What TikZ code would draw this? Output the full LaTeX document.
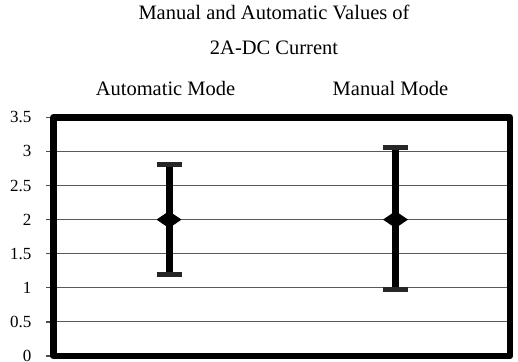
\documentclass[tikz,border=0pt]{standalone}
\usepackage{fontspec}
\setmainfont{Liberation Serif}
\begin{document}
\begin{tikzpicture}[x=1pt,y=-1pt,
  lbl/.style={font=\fontsize{20.5}{24}\selectfont, inner sep=0pt, anchor=base},
  ticklbl/.style={font=\fontsize{17}{19}\selectfont, inner sep=0pt, anchor=east},
  gridline/.style={draw=black!65, line width=1.1pt},
  plotframe/.style={draw=black, line width=6.5pt, line join=round},
  errbar/.style={draw=black, line width=7pt},
  errcap/.style={draw=black!85, line width=5pt},
  tickmark/.style={draw=black!70, line width=1.2pt}]
\useasboundingbox (0,0) rectangle (518,361);
% title
\node[lbl] (t1) at (274,20) {Manual and Automatic Values of};
\node[lbl] (t2) at (274,55) {2A-DC Current};
\node[lbl] (ca) at (165.5,95) {Automatic Mode};
\node[lbl] (cm) at (390.5,95) {Manual Mode};
% grid and ticks
\foreach \i/\t in {0/0,1/0.5,2/1,3/1.5,4/2,5/2.5,6/3,7/3.5}{
  \pgfmathsetmacro{\yy}{356-34.1*\i}
  \coordinate (gl\i) at (53.5,\yy);
  \coordinate (gr\i) at (510,\yy);
  \coordinate (tk\i) at (46,\yy);
  \node[ticklbl] (lb\i) at (31.5,\yy) {\t};
  \draw[tickmark] (tk\i) -- (gl\i);
}
\foreach \i in {1,...,6}{
  \draw[gridline] (gl\i) -- (gr\i);
}
% frame
\draw[plotframe] (gl0) -- (gl7) -- (gr7) -- (gr0) -- cycle;
% error bars
\coordinate (at) at (169,{356-68.2*2.81});
\coordinate (ab) at (169,{356-68.2*1.19});
\coordinate (am) at (169,{356-68.2*2});
\coordinate (mt) at (395.5,{356-68.2*3.05});
\coordinate (mb) at (395.5,{356-68.2*0.97});
\coordinate (mm) at (395.5,{356-68.2*2});
\foreach \a/\b/\c in {at/ab/am, mt/mb/mm}{
  \draw[errbar] (\a) -- (\b);
  \draw[errcap] ([xshift=-12.5pt]\a) -- ([xshift=12.5pt]\a);
  \draw[errcap] ([xshift=-12.5pt]\b) -- ([xshift=12.5pt]\b);
  \fill[black] ([xshift=-12.5pt]\c) -- ([yshift=-8.5pt]\c) -- ([xshift=12.5pt]\c) -- ([yshift=8.5pt]\c) -- cycle;
}
\end{tikzpicture}
\end{document}
